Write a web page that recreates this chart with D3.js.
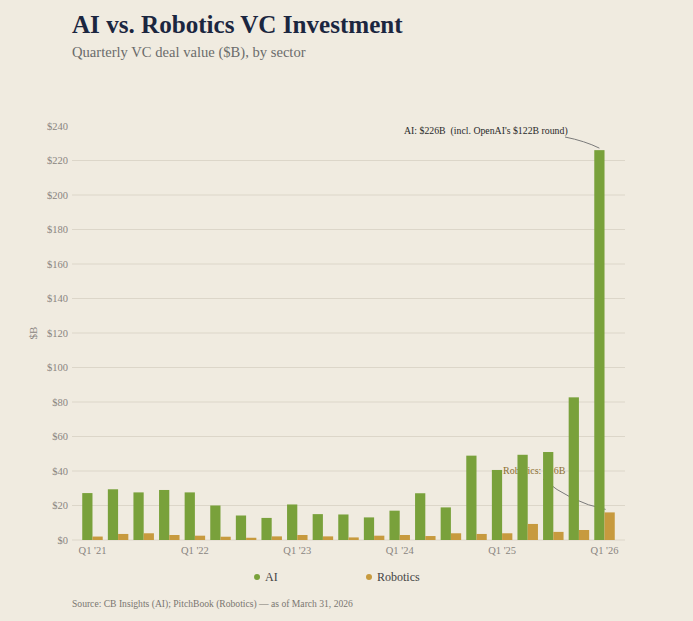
<!DOCTYPE html>
<html><head><meta charset="utf-8">
<script src="https://cdn.jsdelivr.net/npm/d3@7"></script>
<style>
body{margin:0;background:#f0ebe0;}
svg{display:block;}
</style></head>
<body>
<svg id="c" width="693" height="621"></svg>
<script>
const quarters = ["Q1 '21","Q2 '21","Q3 '21","Q4 '21","Q1 '22","Q2 '22","Q3 '22","Q4 '22","Q1 '23","Q2 '23","Q3 '23","Q4 '23","Q1 '24","Q2 '24","Q3 '24","Q4 '24","Q1 '25","Q2 '25","Q3 '25","Q4 '25","Q1 '26"];
const aiValues = [27.2,29.4,27.6,29.0,27.6,20.0,14.2,12.8,20.6,15.0,14.8,13.1,17.0,27.1,18.9,48.9,40.6,49.4,51.0,82.7,226];
const roboticsValues = [2.0,3.5,3.9,2.9,2.5,1.9,1.3,2.1,2.9,2.1,1.5,2.5,2.9,2.3,3.9,3.5,3.9,9.3,4.7,5.8,16.0];
const series = ["AI","Robotics"];
const yTicks = [0,20,40,60,80,100,120,140,160,180,200,220,240];
const xTickLabels = ["Q1 '21","Q1 '22","Q1 '23","Q1 '24","Q1 '25","Q1 '26"];

const colors = {AI:"#79a13b", Robotics:"#c79a3e"};
const svg = d3.select("#c");
const W=693,H=621;
svg.append("rect").attr("width",W).attr("height",H).attr("fill","#f0ebe0");

const m = {l:72, r:625, t:126, b:540};
const x = d3.scaleBand().domain(quarters).range([m.l,m.r]).paddingInner(0.2).paddingOuter(0.4);
const xs = d3.scaleBand().domain(series).range([0,x.bandwidth()]).padding(0);
const y = d3.scaleLinear().domain([0,240]).range([m.b,m.t]);

const serif = "'Liberation Serif','Times New Roman',serif";

// title
svg.append("text").attr("x",72).attr("y",33).attr("font-family",serif).attr("font-weight","bold")
  .attr("font-size",25.1).attr("fill","#1b2640").text("AI vs. Robotics VC Investment");
svg.append("text").attr("x",72).attr("y",57).attr("font-family",serif)
  .attr("font-size",14.6).attr("fill","#6b6b6b").text("Quarterly VC deal value ($B), by sector");

// grid
const g = svg.append("g");
g.selectAll("line.grid").data(yTicks.filter(d=>d<240)).join("line")
  .attr("x1",m.l).attr("x2",m.r+0).attr("y1",d=>y(d)).attr("y2",d=>y(d))
  .attr("stroke","#dcd6c9").attr("stroke-width",1);

// y axis labels
const yAxis = d3.axisLeft(y).tickValues(yTicks).tickSize(0).tickPadding(4).tickFormat(d=>"$"+d);
const ya = svg.append("g").attr("transform",`translate(${m.l},0)`).call(yAxis);
ya.select(".domain").remove();
ya.selectAll("text").attr("font-family",serif).attr("font-size",10.5).attr("fill","#8a8580");

svg.append("text").attr("transform","translate(37,333) rotate(-90)").attr("text-anchor","middle")
  .attr("font-family",serif).attr("font-size",11).attr("fill","#8a8580").text("$B");

// x axis labels
const xAxis = d3.axisBottom(x).tickValues(xTickLabels).tickSize(0).tickPadding(7);
const xa = svg.append("g").attr("transform",`translate(0,${m.b})`).call(xAxis);
xa.select(".domain").remove();
xa.selectAll("text").attr("font-family",serif).attr("font-size",10.5).attr("fill","#8a8580");

// robotics annotation (beneath bars)
const lastQ = quarters[quarters.length-1];
const rbX = x(lastQ)+xs("Robotics")+xs.bandwidth()/2;
const rbY = y(roboticsValues[roboticsValues.length-1]);
const ann = svg.append("g");
ann.append("text").attr("x",503).attr("y",474).attr("font-family",serif).attr("font-size",10)
  .attr("fill","#8c7034").text("Robotics: $16B");
ann.append("path").attr("d",`M543,479 Q570,502 ${rbX-4},${rbY-3}`).attr("fill","none")
  .attr("stroke","#7a7a7a").attr("stroke-width",1);

// bars
const groups = svg.append("g").selectAll("g").data(quarters).join("g")
  .attr("transform",d=>`translate(${x(d)},0)`);
groups.selectAll("rect").data((d,i)=>[{s:"AI",v:aiValues[i]},{s:"Robotics",v:roboticsValues[i]}]).join("rect")
  .attr("x",d=>xs(d.s)).attr("width",xs.bandwidth())
  .attr("y",d=>y(d.v)).attr("height",d=>y(0)-y(d.v)).attr("fill",d=>colors[d.s]);

// AI annotation
const aiX = x(lastQ)+xs("AI")+xs.bandwidth()/2;
const aiY = y(aiValues[aiValues.length-1]);
svg.append("text").attr("x",404).attr("y",134).attr("font-family",serif).attr("font-size",9.8)
  .style("white-space","pre").attr("fill","#2a2a2a").text("AI: $226B  (incl. OpenAI's $122B round)");
svg.append("path").attr("d",`M565,137 Q585,141 ${aiX},${aiY-2}`).attr("fill","none")
  .attr("stroke","#7a7a7a").attr("stroke-width",1);

// legend
const leg = [{s:"AI",cx:257,tx:265},{s:"Robotics",cx:369,tx:377}];
leg.forEach(l=>{
  svg.append("circle").attr("cx",l.cx).attr("cy",577).attr("r",3).attr("fill",colors[l.s]);
  svg.append("text").attr("x",l.tx).attr("y",581).attr("font-family",serif).attr("font-size",12)
    .attr("fill","#444").text(l.s);
});

svg.append("text").attr("x",72).attr("y",607).attr("font-family",serif).attr("font-size",9.6)
  .attr("fill","#7a7670").text("Source: CB Insights (AI); PitchBook (Robotics) — as of March 31, 2026");
</script>
</body></html>
